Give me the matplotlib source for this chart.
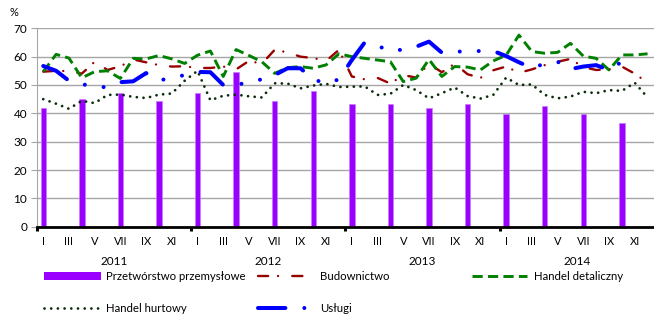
import numpy as np
import matplotlib
matplotlib.use('Agg')
import matplotlib.pyplot as plt
from matplotlib.lines import Line2D
from matplotlib.patches import Patch

plt.rcParams['font.family'] = ['Lato', 'DejaVu Sans']
plt.rcParams['font.size'] = 8

# Data, monthly Jan 2011 - Dec 2014
years = ['2011', '2012', '2013', '2014']
month_labels = ['I', 'III', 'V', 'VII', 'IX', 'XI']

# quarterly bars (I, IV, VII, X)
przetworstwo = [42.0, 45.0, 47.3, 44.4, 47.3, 54.7, 44.4, 47.9,
                43.2, 43.2, 42.0, 43.2, 39.6, 42.6, 39.6, 36.7]

budownictwo = [54.7, 55.0, 54.9, 54.0, 58.2, 55.3, 56.6, 59.0, 58.0, 57.0, 56.5, 56.6,
               56.0, 56.0, 56.5, 55.5, 58.5, 57.5, 62.4, 61.5, 60.0, 59.5, 58.5, 62.4,
               53.0, 52.0, 52.5, 50.5, 53.5, 52.6, 57.5, 54.5, 57.5, 53.8, 52.5, 55.2,
               56.5, 54.3, 55.5, 57.0, 58.2, 59.2, 56.3, 55.3, 55.5, 56.5, 54.0, 50.8]

detaliczny = [54.7, 60.8, 59.5, 52.5, 54.7, 55.0, 52.3, 59.4, 59.2, 60.4, 59.2, 57.6,
              60.5, 62.0, 53.0, 62.5, 60.4, 58.2, 54.1, 56.1, 56.5, 55.9, 57.1, 61.0,
              60.0, 59.4, 58.8, 58.2, 51.2, 52.4, 59.0, 53.0, 56.5, 56.3, 55.3, 58.5,
              60.5, 67.6, 61.8, 61.2, 61.5, 64.7, 60.2, 59.4, 55.3, 60.6, 60.6, 61.0]

hurtowy = [45.0, 43.4, 41.6, 44.4, 43.6, 46.5, 46.6, 45.8, 45.4, 46.6, 47.0, 51.5,
           55.0, 44.6, 46.2, 46.6, 46.0, 45.6, 50.6, 50.5, 48.8, 49.8, 50.4, 49.3,
           49.4, 49.5, 46.5, 46.9, 50.0, 48.2, 45.3, 47.1, 49.1, 46.1, 45.2, 46.5,
           52.6, 50.0, 50.2, 46.5, 45.3, 45.9, 47.6, 47.1, 48.2, 47.9, 50.8, 45.6]

uslugi = [56.7, 55.0, 51.5, 50.3, 49.4, 49.2, 51.0, 51.3, 54.2, 51.6, 52.5, 53.5,
          54.6, 54.5, 50.0, 50.0, 51.0, 52.0, 53.5, 55.9, 55.9, 52.0, 50.5, 52.0,
          58.8, 65.0, 63.8, 62.0, 62.5, 63.5, 65.3, 61.4, 61.8, 61.8, 62.0, 62.0,
          60.2, 58.0, 56.0, 57.5, 58.2, 55.6, 56.5, 57.0, 55.3, 58.2, 56.0, np.nan]

months = np.arange(len(budownictwo))
quarters = np.arange(0, len(budownictwo), 3)

# styles
c_bar = '#9900FF'
st_bud = dict(color='#990000', lw=1.7, dashes=(4.3, 4.2, 0.01, 6.0), dash_capstyle='round')
st_det = dict(color='#008000', lw=2.1, dashes=(3.5, 1.8), dash_capstyle='butt')
st_hur = dict(color='#0B2B0B', lw=2.0, dashes=(0.01, 2.4), dash_capstyle='round')
st_usl = dict(color='#0000FF', lw=2.9, dashes=(6.8, 4.7, 0.01, 4.7, 0.01, 4.7), dash_capstyle='round')

fig = plt.figure(figsize=(6.54, 3.16), dpi=100)
ax = fig.add_axes([36.8 / 654, 1 - 226.7 / 316, (654 - 36.8) / 654, (226.7 - 28.3) / 316])

ax.bar(quarters, przetworstwo, width=0.42, color=c_bar, edgecolor='#C77DFF', linewidth=0.5, zorder=2)
ax.plot(months, budownictwo, zorder=3, **st_bud)
ax.plot(months, detaliczny, zorder=4, **st_det)
ax.plot(months, hurtowy, zorder=5, **st_hur)
ax.plot(months, uslugi, zorder=6, **st_usl)

ax.set_xlim(-0.5, 47.5)
ax.set_ylim(0, 70)
ax.set_yticks(range(0, 71, 10))
ax.yaxis.grid(True, color='#A6A6A6', lw=1.0, zorder=0)
ax.set_axisbelow(True)
for s in ['top', 'right']:
    ax.spines[s].set_visible(False)
ax.spines['left'].set_color('#A6A6A6')
ax.spines['bottom'].set_color('black')
ax.spines['bottom'].set_linewidth(2.0)
ax.spines['bottom'].set_zorder(7)
ax.tick_params(axis='y', length=4, color='#A6A6A6', pad=3, labelsize=8.5)

# year separators as major ticks, month names as minor tick labels
ax.set_xticks([-0.5, 11.5, 23.5, 35.5])
ax.set_xticklabels([])
ax.tick_params(axis='x', which='major', length=3, width=2.2, color='black')
ax.set_xticks(np.arange(0, 48, 2), labels=month_labels * 4, minor=True)
ax.tick_params(axis='x', which='minor', length=0, pad=7, labelsize=8)

for i, y in enumerate(years):
    ax.text(5.5 + 12 * i, -0.173, y, transform=ax.get_xaxis_transform(),
            ha='center', va='center', fontsize=8.5)

fig.text(14 / 654, 1 - 12 / 316, '%', ha='center', va='center', fontsize=8)

# legend, three columns of equal width like the original
def add_leg(handles, labels, x, hl, pad):
    leg = fig.legend(handles, labels, loc='upper left', bbox_to_anchor=(x / 654, 1 - 271 / 316),
                     frameon=False, borderpad=0, borderaxespad=0, handlelength=hl,
                     handletextpad=pad, labelspacing=1.85, fontsize=8.2)
    return leg

add_leg([Patch(facecolor=c_bar, edgecolor='none'), Line2D([], [], **st_hur)],
        ['Przetwórstwo przemysłowe', 'Handel hurtowy'], 44, 5.0, 0.45)
add_leg([Line2D([], [], **st_bud), Line2D([], [], **st_usl)],
        ['Budownictwo', 'Usługi'], 258, 4.3, 1.15)
add_leg([Line2D([], [], **st_det)], ['Handel detaliczny'], 472, 4.8, 0.6)

fig.savefig('out.png', dpi=100)
